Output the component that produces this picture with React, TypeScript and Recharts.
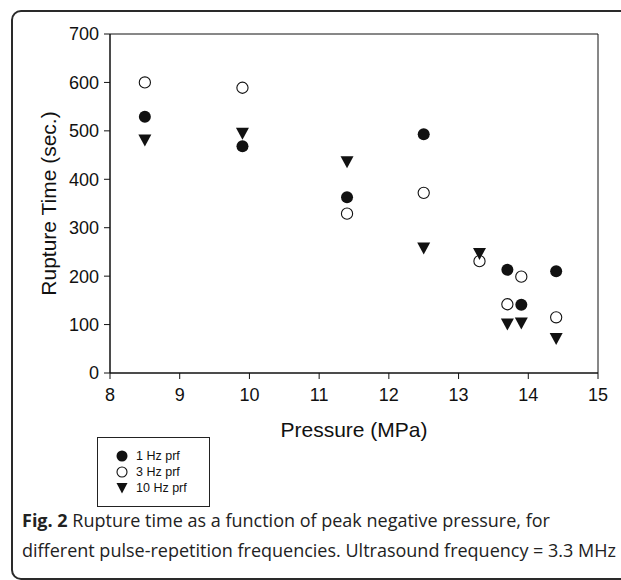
import {
  ScatterChart,
  Scatter,
  XAxis,
  YAxis,
  Label,
  ReferenceArea,
} from "recharts";

const pressure1Hz = [8.5, 9.9, 11.4, 12.5, 13.7, 13.9, 14.4];
const time1Hz = [529, 468, 363, 493, 213, 141, 210];

const pressure3Hz = [8.5, 9.9, 11.4, 12.5, 13.3, 13.7, 13.9, 14.4];
const time3Hz = [600, 589, 329, 372, 231, 142, 199, 115];

const pressure10Hz = [8.5, 9.9, 11.4, 12.5, 13.3, 13.7, 13.9, 14.4];
const time10Hz = [481, 495, 436, 258, 247, 101, 103, 71];

const xTicks = [8, 9, 10, 11, 12, 13, 14, 15];
const yTicks = [0, 100, 200, 300, 400, 500, 600, 700];

const legendLabels = ["1 Hz prf", "3 Hz prf", "10 Hz prf"];

const AXIS_FONT = "'Liberation Sans', Arial, sans-serif";
const INK = "#111";

function zip(xs: number[], ys: number[]) {
  return xs.map((x, i) => ({ pressure: x, time: ys[i] }));
}

function FilledDot(props: any) {
  const { cx, cy } = props;
  return <circle cx={cx} cy={cy} r={6} fill={INK} />;
}

function OpenDot(props: any) {
  const { cx, cy } = props;
  return <circle cx={cx} cy={cy} r={5.6} fill="#fff" stroke={INK} strokeWidth={1.1} />;
}

function DownTriangle(props: any) {
  const { cx, cy } = props;
  return (
    <path
      d={`M${cx - 6.5},${cy - 5.5} L${cx + 6.5},${cy - 5.5} L${cx},${cy + 6.5} Z`}
      fill={INK}
    />
  );
}

function LegendIcon({ kind }: { kind: number }) {
  return (
    <svg width={12} height={12} style={{ display: "block" }}>
      {kind === 0 && <circle cx={6} cy={6} r={5.5} fill={INK} />}
      {kind === 1 && (
        <circle cx={6} cy={6} r={5} fill="#fff" stroke={INK} strokeWidth={1.1} />
      )}
      {kind === 2 && <path d="M0.5,1 L11.5,1 L6,11.5 Z" fill={INK} />}
    </svg>
  );
}

export default function App() {
  return (
    <div
      style={{
        position: "absolute",
        left: 0,
        top: 0,
        width: 621,
        height: 580,
        overflow: "hidden",
        background: "#fff",
      }}
    >
      <div
        style={{
          position: "absolute",
          left: 11,
          top: 10,
          width: 640,
          height: 566,
          border: "2px solid #2a2a2a",
          borderRadius: 10,
        }}
      />
      <div style={{ position: "absolute", left: 0, top: 0 }}>
        <ScatterChart
          width={621}
          height={443}
          margin={{ top: 34, right: 23, bottom: 0, left: 0 }}
        >
          <XAxis
            type="number"
            dataKey="pressure"
            domain={[8, 15]}
            ticks={xTicks}
            height={70}
            stroke={INK}
            tickSize={6}
            tickMargin={9}
            tick={{ fill: INK, fontSize: 18, fontFamily: AXIS_FONT }}
          >
            <Label
              value="Pressure (MPa)"
              position="insideBottom"
              offset={6}
              style={{ fill: INK, fontSize: 21, fontFamily: AXIS_FONT }}
            />
          </XAxis>
          <YAxis
            type="number"
            dataKey="time"
            domain={[0, 700]}
            ticks={yTicks}
            width={110}
            stroke={INK}
            tickSize={6}
            tickMargin={5}
            tick={{ fill: INK, fontSize: 18, fontFamily: AXIS_FONT }}
          >
            <Label
              value="Rupture Time (sec.)"
              angle={-90}
              position="insideLeft"
              offset={49}
              style={{
                fill: INK,
                fontSize: 21,
                fontFamily: AXIS_FONT,
                textAnchor: "middle",
              }}
            />
          </YAxis>
          <ReferenceArea
            x1={8}
            x2={15}
            y1={0}
            y2={700}
            fill="none"
            stroke={INK}
            strokeWidth={1}
          />
          <Scatter
            name="1 Hz prf"
            data={zip(pressure1Hz, time1Hz)}
            shape={FilledDot}
            isAnimationActive={false}
          />
          <Scatter
            name="3 Hz prf"
            data={zip(pressure3Hz, time3Hz)}
            shape={OpenDot}
            isAnimationActive={false}
          />
          <Scatter
            name="10 Hz prf"
            data={zip(pressure10Hz, time10Hz)}
            shape={DownTriangle}
            isAnimationActive={false}
          />
        </ScatterChart>
      </div>

      <div
        style={{
          position: "absolute",
          left: 97,
          top: 437,
          width: 113,
          height: 70,
          border: "1px solid #222",
          boxSizing: "border-box",
          padding: "10px 0 0 18px",
          fontFamily: AXIS_FONT,
          fontSize: 12.5,
          color: INK,
        }}
      >
        {legendLabels.map((label, i) => (
          <div
            key={label}
            style={{ display: "flex", alignItems: "center", height: 16 }}
          >
            <LegendIcon kind={i} />
            <span style={{ marginLeft: 8, whiteSpace: "nowrap" }}>{label}</span>
          </div>
        ))}
      </div>

      <div
        style={{
          position: "absolute",
          left: 22,
          top: 505,
          width: 600,
          fontFamily: "'Open Sans', sans-serif",
          fontSize: 18,
          lineHeight: "30px",
          color: "#222",
          whiteSpace: "nowrap",
        }}
      >
        <b>Fig. 2</b> Rupture time as a function of peak negative pressure, for
        <br />
        different pulse-repetition frequencies. Ultrasound frequency = 3.3 MHz
      </div>
    </div>
  );
}
